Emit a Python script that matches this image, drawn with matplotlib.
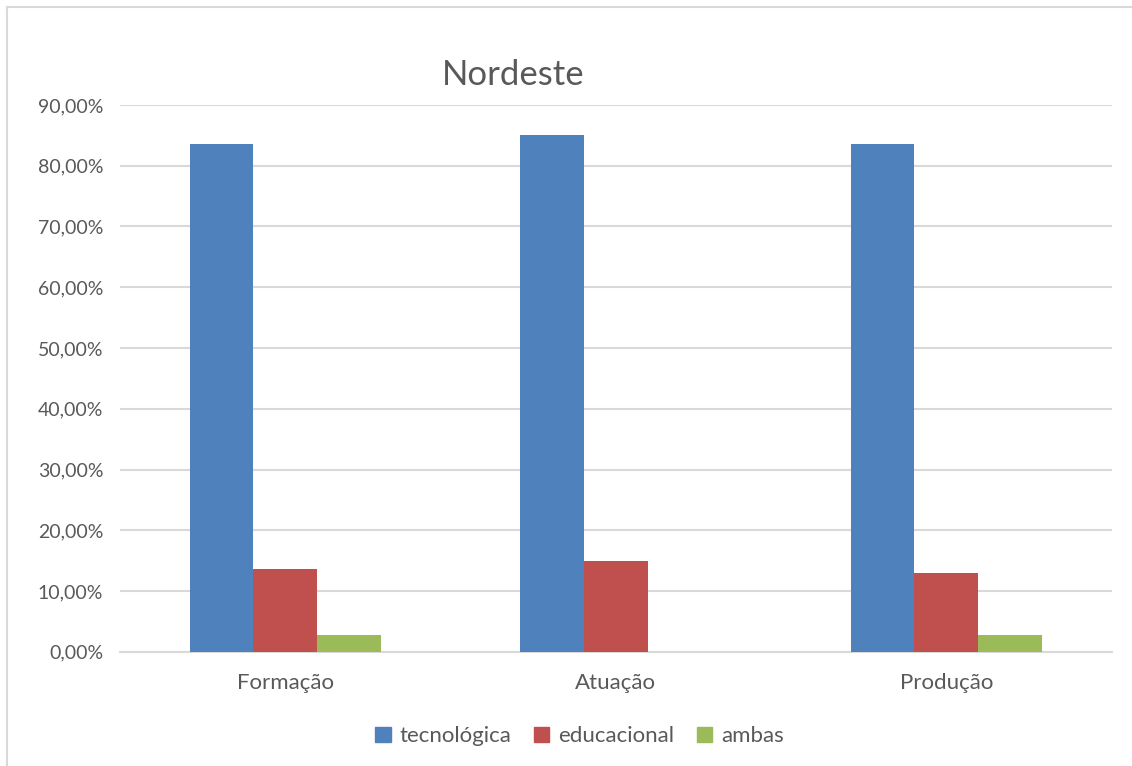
import numpy as np
import matplotlib.pyplot as plt
from matplotlib.ticker import FuncFormatter, MultipleLocator
from matplotlib.lines import Line2D

plt.rcParams['font.family'] = ['Lato', 'DejaVu Sans']

categories = ['Formação', 'Atuação', 'Produção']
series = ['tecnológica', 'educacional', 'ambas']
tecnologica = [0.8356, 0.8500, 0.8356]
educacional = [0.1370, 0.1500, 0.1304]
ambas = [0.0274, 0.0, 0.0274]
colors = ['#4F81BD', '#C0504D', '#9BBB59']

fig = plt.figure(figsize=(11.32, 7.66), dpi=100)
ax = fig.add_axes([0.106, 0.149, 0.876, 0.714])

x = np.arange(len(categories))
w = 0.193
for i, (vals, c, name) in enumerate(zip([tecnologica, educacional, ambas], colors, series)):
    ax.bar(x + (i - 1) * w, vals, width=w, color=c, label=name, zorder=3)

ax.set_xlim(-0.5, 2.5)
ax.set_ylim(0, 0.9)
ax.yaxis.set_major_locator(MultipleLocator(0.1))
ax.yaxis.set_major_formatter(FuncFormatter(lambda v, p: f'{v*100:.2f}%'.replace('.', ',')))
ax.set_xticks(x)
ax.set_xticklabels(categories)
ax.grid(axis='y', color='#D9D9D9', linewidth=1.5, zorder=0)
for s in ['top', 'right', 'left']:
    ax.spines[s].set_visible(False)
ax.spines['bottom'].set_color('#D9D9D9')
ax.spines['bottom'].set_linewidth(1.5)
ax.tick_params(length=0, colors='#595959')
ax.tick_params(axis='x', labelsize=16, pad=15)
ax.tick_params(axis='y', labelsize=14, pad=12)

fig.text(0.453, 0.902, 'Nordeste', ha='center', va='center', fontsize=25, color='#595959')

handles = [plt.Rectangle((0, 0), 1, 1, color=c) for c in colors]
fig.legend(handles, series, loc='center', bbox_to_anchor=(0.512, 0.039), ncol=3,
           frameon=False, fontsize=16, handlelength=0.7, handleheight=0.7,
           columnspacing=1.0, handletextpad=0.4, labelcolor='#595959')

# chart border (left and top visible)
fig.add_artist(Line2D([7 / 1132, 7 / 1132], [0, 1 - 7 / 766], transform=fig.transFigure,
                      color='#D9D9D9', linewidth=1.5))
fig.add_artist(Line2D([7 / 1132, 1], [1 - 7 / 766, 1 - 7 / 766], transform=fig.transFigure,
                      color='#D9D9D9', linewidth=1.5))

fig.savefig('out.png', dpi=100)
